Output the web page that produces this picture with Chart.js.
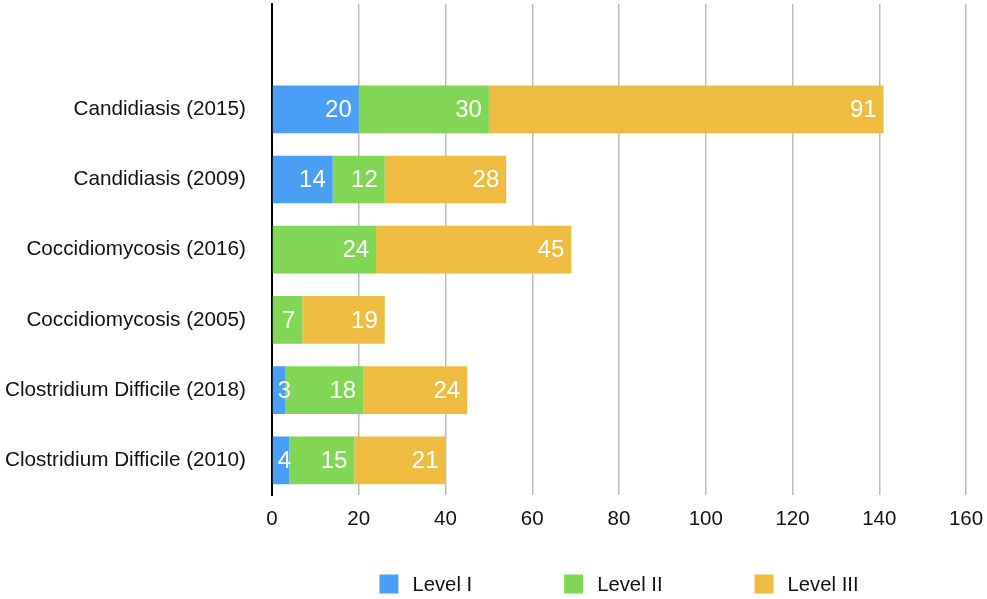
<!DOCTYPE html>
<html>
<head>
<meta charset="utf-8">
<script src="https://cdn.jsdelivr.net/npm/chart.js@4.4.1/dist/chart.umd.min.js"></script>
<style>
  html, body { margin: 0; padding: 0; background: #fff; }
  #wrap { width: 987px; height: 599px; position: relative; }
</style>
</head>
<body>
<div id="wrap"><canvas id="chart"></canvas></div>
<script>
// данные
const categories = [
  'Candidiasis (2015)',
  'Candidiasis (2009)',
  'Coccidiomycosis (2016)',
  'Coccidiomycosis (2005)',
  'Clostridium Difficile (2018)',
  'Clostridium Difficile (2010)'
];
const levelI = [20, 14, 0, 0, 3, 4];
const levelII = [30, 12, 24, 7, 18, 15];
const levelIII = [91, 28, 45, 19, 24, 21];
const seriesNames = ['Level I', 'Level II', 'Level III'];
const seriesColors = ['#4a9ff5', '#81d655', '#efbc42'];
const xTicks = [0, 20, 40, 60, 80, 100, 120, 140, 160];

const FONT = '"Liberation Sans", Arial, Helvetica, sans-serif';

// сверху на графике пустая строка
const labels = [''].concat(categories);
const withGap = arr => [null].concat(arr);

// подписи значений внутри столбиков
const valueLabels = {
  id: 'valueLabels',
  afterDatasetsDraw(chart) {
    const ctx = chart.ctx;
    ctx.save();
    ctx.font = '24px ' + FONT;
    ctx.fillStyle = '#fff';
    ctx.textBaseline = 'middle';
    ctx.textAlign = 'right';
    chart.data.datasets.forEach((ds, i) => {
      const meta = chart.getDatasetMeta(i);
      meta.data.forEach((bar, j) => {
        const v = ds.data[j];
        if (!v) return;
        const text = String(v);
        const w = ctx.measureText(text).width;
        const start = Math.min(bar.base, bar.x);
        const end = Math.max(bar.base, bar.x);
        const x = Math.max(end - 7, start + 5 + w);
        ctx.fillText(text, x, bar.y + 1);
      });
    });
    ctx.restore();
  }
};

// легенда внизу с широкими промежутками
const wideLegend = {
  id: 'wideLegend',
  afterDraw(chart) {
    const ctx = chart.ctx;
    const box = 19, gapText = 14, gapItem = 92;
    ctx.save();
    ctx.font = '20.3px ' + FONT;
    const widths = chart.data.datasets.map(ds => box + gapText + ctx.measureText(ds.label).width);
    const total = widths.reduce((a, b) => a + b, 0) + gapItem * (widths.length - 1);
    const area = chart.chartArea;
    let x = (area.left + area.right) / 2 - total / 2;
    const cy = 584;
    chart.data.datasets.forEach((ds, i) => {
      ctx.fillStyle = ds.backgroundColor;
      ctx.fillRect(x, cy - box / 2, box, box);
      ctx.fillStyle = '#111';
      ctx.textBaseline = 'middle';
      ctx.textAlign = 'left';
      ctx.fillText(ds.label, x + box + gapText, cy + 1);
      x += widths[i] + gapItem;
    });
    ctx.restore();
  }
};

new Chart(document.getElementById('chart'), {
  type: 'bar',
  data: {
    labels: labels,
    datasets: [
      { label: seriesNames[0], data: withGap(levelI), backgroundColor: seriesColors[0] },
      { label: seriesNames[1], data: withGap(levelII), backgroundColor: seriesColors[1] },
      { label: seriesNames[2], data: withGap(levelIII), backgroundColor: seriesColors[2] }
    ]
  },
  options: {
    indexAxis: 'y',
    responsive: true,
    maintainAspectRatio: false,
    animation: false,
    datasets: {
      bar: { categoryPercentage: 1, barPercentage: 0.68, borderWidth: 0 }
    },
    layout: { padding: { top: 4, right: 21, bottom: 55, left: 0 } },
    plugins: {
      legend: { display: false },
      tooltip: { enabled: false }
    },
    scales: {
      x: {
        stacked: true,
        min: 0,
        max: 160,
        afterBuildTicks: scale => { scale.ticks = xTicks.map(v => ({ value: v })); },
        afterFit: scale => { scale.paddingLeft = 0; scale.paddingRight = 0; },
        grid: { color: '#bdbdbd', lineWidth: 1.5, drawTicks: false },
        border: { display: false },
        ticks: { color: '#111', font: { family: FONT, size: 20.5 }, padding: 12, maxRotation: 0 }
      },
      y: {
        stacked: true,
        afterFit: scale => {
          scale.width = 272;
          scale.paddingTop = 0;
          scale.paddingBottom = 0;
        },
        grid: { display: false, drawTicks: false },
        border: { display: true, color: '#000', width: 2 },
        ticks: { color: '#111', font: { family: FONT, size: 20.7 }, padding: 26 }
      }
    }
  },
  plugins: [valueLabels, wideLegend]
});
</script>
</body>
</html>
